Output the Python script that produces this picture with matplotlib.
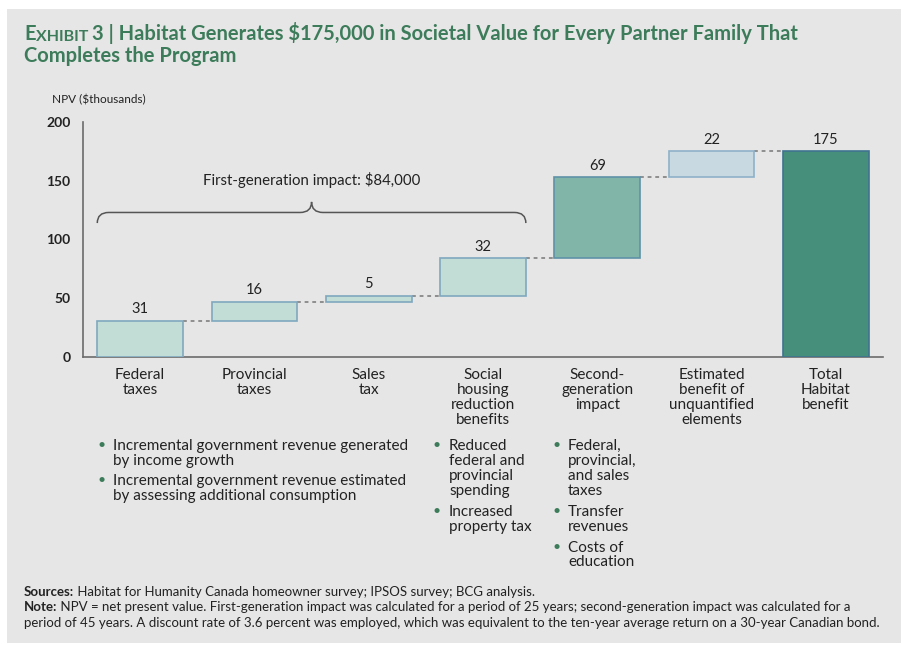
import matplotlib
matplotlib.use("Agg")
import matplotlib.pyplot as plt
from matplotlib.patches import Rectangle, PathPatch
from matplotlib.path import Path

# data (NPV, $ thousands)
categories = ["Federal\ntaxes", "Provincial\ntaxes", "Sales\ntax",
              "Social\nhousing\nreduction\nbenefits", "Second-\ngeneration\nimpact",
              "Estimated\nbenefit of\nunquantified\nelements", "Total\nHabitat\nbenefit"]
increments = [31, 16, 5, 32, 69, 22]
total = 175
bar_colors = ["#c1ddd6", "#c1ddd6", "#c1ddd6", "#c1ddd6", "#80b5a7", "#c9d9e1", "#468f7a"]
edge_colors = ["#7fa8bf", "#7fa8bf", "#7fa8bf", "#7fa8bf", "#5f92a8", "#8fb0c8", "#3f7390"]

GREEN = "#3d7c5a"
TEXT = "#222222"
BODY_FONT = ["Lato", "DejaVu Sans"]

plt.rcParams["font.family"] = BODY_FONT

fig = plt.figure(figsize=(9.03, 6.45), dpi=100)
fig.patch.set_facecolor("white")
fig.patches.append(Rectangle((7 / 903, 1 - 643 / 645), 894 / 903, 634 / 645,
                             transform=fig.transFigure, facecolor="#e6e6e6",
                             edgecolor="none", zorder=-10))

ax = fig.add_axes([83 / 903, 1 - 357 / 645, 800 / 903, 235 / 645])
ax.set_facecolor("none")

# waterfall bars
bottoms = []
run = 0
for v in increments:
    bottoms.append(run)
    run += v
heights = increments + [total]
bottoms.append(0)
xs = list(range(len(heights)))
width = 0.75
ax.bar(xs, heights, bottom=bottoms, width=width, color=bar_colors,
       edgecolor=edge_colors, linewidth=1.2, zorder=3)

# dashed connectors
tops = [b + h for b, h in zip(bottoms, heights)]
for i in range(len(heights) - 1):
    ax.plot([xs[i] + width / 2, xs[i + 1] - width / 2], [tops[i], tops[i]],
            color="#777777", linestyle=(0, (2.5, 2.5)), linewidth=1.1, zorder=2)

# value labels
for x, t, h in zip(xs, tops, heights):
    ax.text(x, t + 4, str(h), ha="center", va="bottom", fontsize=10.5, color=TEXT)

# brace over first-generation impact
x0, x1 = xs[0] - width / 2, xs[3] + width / 2
xm = (xs[0] + xs[3]) / 2
yb, yh, yp = 114, 123, 132
dx = 0.1
verts = [(x0, yb), (x0, yh), (x0 + dx, yh),
         (xm - dx, yh), (xm, yh), (xm, yp),
         (xm, yh), (xm + dx, yh),
         (x1 - dx, yh), (x1, yh), (x1, yb)]
codes = [Path.MOVETO, Path.CURVE3, Path.CURVE3,
         Path.LINETO, Path.CURVE3, Path.CURVE3,
         Path.CURVE3, Path.CURVE3,
         Path.LINETO, Path.CURVE3, Path.CURVE3]
ax.add_patch(PathPatch(Path(verts, codes), facecolor="none", edgecolor="#555555",
                       linewidth=1.1, zorder=2))
ax.text(xm, 150.5, "First-generation impact: $84,000", ha="center", va="center",
        fontsize=10.8, color=TEXT)

# axes styling
ax.set_xlim(-0.5, 6.5)
ax.set_ylim(0, 200)
ax.set_yticks([0, 50, 100, 150, 200])
ax.set_yticklabels(["0", "50", "100", "150", "200"], fontweight="bold", fontsize=10)
ax.set_xticks(xs)
ax.set_xticklabels(categories, fontsize=11, linespacing=1.08, color=TEXT,
                   va="top", ha="center")
ax.tick_params(axis="both", length=0, colors=TEXT)
ax.tick_params(axis="x", pad=8)
ax.tick_params(axis="y", pad=9)
for s in ["top", "right"]:
    ax.spines[s].set_visible(False)
ax.spines["left"].set_color("#6b6b6b")
ax.spines["bottom"].set_color("#6b6b6b")
ax.spines["left"].set_linewidth(1.2)
ax.spines["bottom"].set_linewidth(1.2)

fig.text(52 / 903, 1 - 100 / 645, "NPV ($thousands)", fontsize=8.5, color=TEXT,
         va="center", ha="left")

# title
t1 = fig.text(24 / 903, 1 - 40 / 645, "E", fontsize=14.5, fontweight="bold",
              color=GREEN, va="baseline", ha="left")
t2 = ax.annotate("XHIBIT ", xy=(1, 0), xycoords=t1, va="bottom", ha="left",
                 fontsize=11.5, fontweight="bold", color=GREEN,
                 annotation_clip=False)
ax.annotate("3 | Habitat Generates $175,000 in Societal Value for Every Partner Family That",
            xy=(1, 0), xycoords=t2, va="bottom", ha="left", fontsize=14.5,
            fontweight="bold", color=GREEN, annotation_clip=False)
fig.text(24 / 903, 1 - 62 / 645, "Completes the Program", fontsize=14.5,
         fontweight="bold", color=GREEN, va="baseline", ha="left")

# bullet notes below categories
def bullets(xb, xt, items, y_top):
    y = y_top
    for item in items:
        n = item.count("\n") + 1
        fig.text(xb / 903, 1 - y / 645, "\u2022", color=GREEN, fontsize=10,
                 va="top", ha="left")
        fig.text(xt / 903, 1 - y / 645, item, color=TEXT, fontsize=11,
                 va="top", ha="left", linespacing=1.08)
        y += n * 15.6 + 4.0

bullets(98, 113, ["Incremental government revenue generated\nby income growth",
                  "Incremental government revenue estimated\nby assessing additional consumption"], 439)
bullets(433, 449, ["Reduced\nfederal and\nprovincial\nspending",
                   "Increased\nproperty tax"], 439)
bullets(553, 568, ["Federal,\nprovincial,\nand sales\ntaxes",
                   "Transfer\nrevenues", "Costs of\neducation"], 439)

# footer
s = fig.text(24 / 903, 1 - 596 / 645, "Sources:", fontsize=9.5, fontweight="bold",
             color=TEXT, va="baseline")
ax.annotate(" Habitat for Humanity Canada homeowner survey; IPSOS survey; BCG analysis.",
            xy=(1, 0), xycoords=s, va="bottom", ha="left", fontsize=9.5, color=TEXT,
            annotation_clip=False)
n = fig.text(24 / 903, 1 - 611 / 645, "Note:", fontsize=9.5, fontweight="bold",
             color=TEXT, va="baseline")
ax.annotate(" NPV = net present value. First-generation impact was calculated for a period of 25 years; "
            "second-generation impact was calculated for a",
            xy=(1, 0), xycoords=n, va="bottom", ha="left", fontsize=9.5, color=TEXT,
            annotation_clip=False)
fig.text(24 / 903, 1 - 627 / 645,
         "period of 45 years. A discount rate of 3.6 percent was employed, which was equivalent "
         "to the ten-year average return on a 30-year Canadian bond.",
         fontsize=9.5, color=TEXT, va="baseline")

fig.savefig("out.png", dpi=100, facecolor=fig.get_facecolor())
